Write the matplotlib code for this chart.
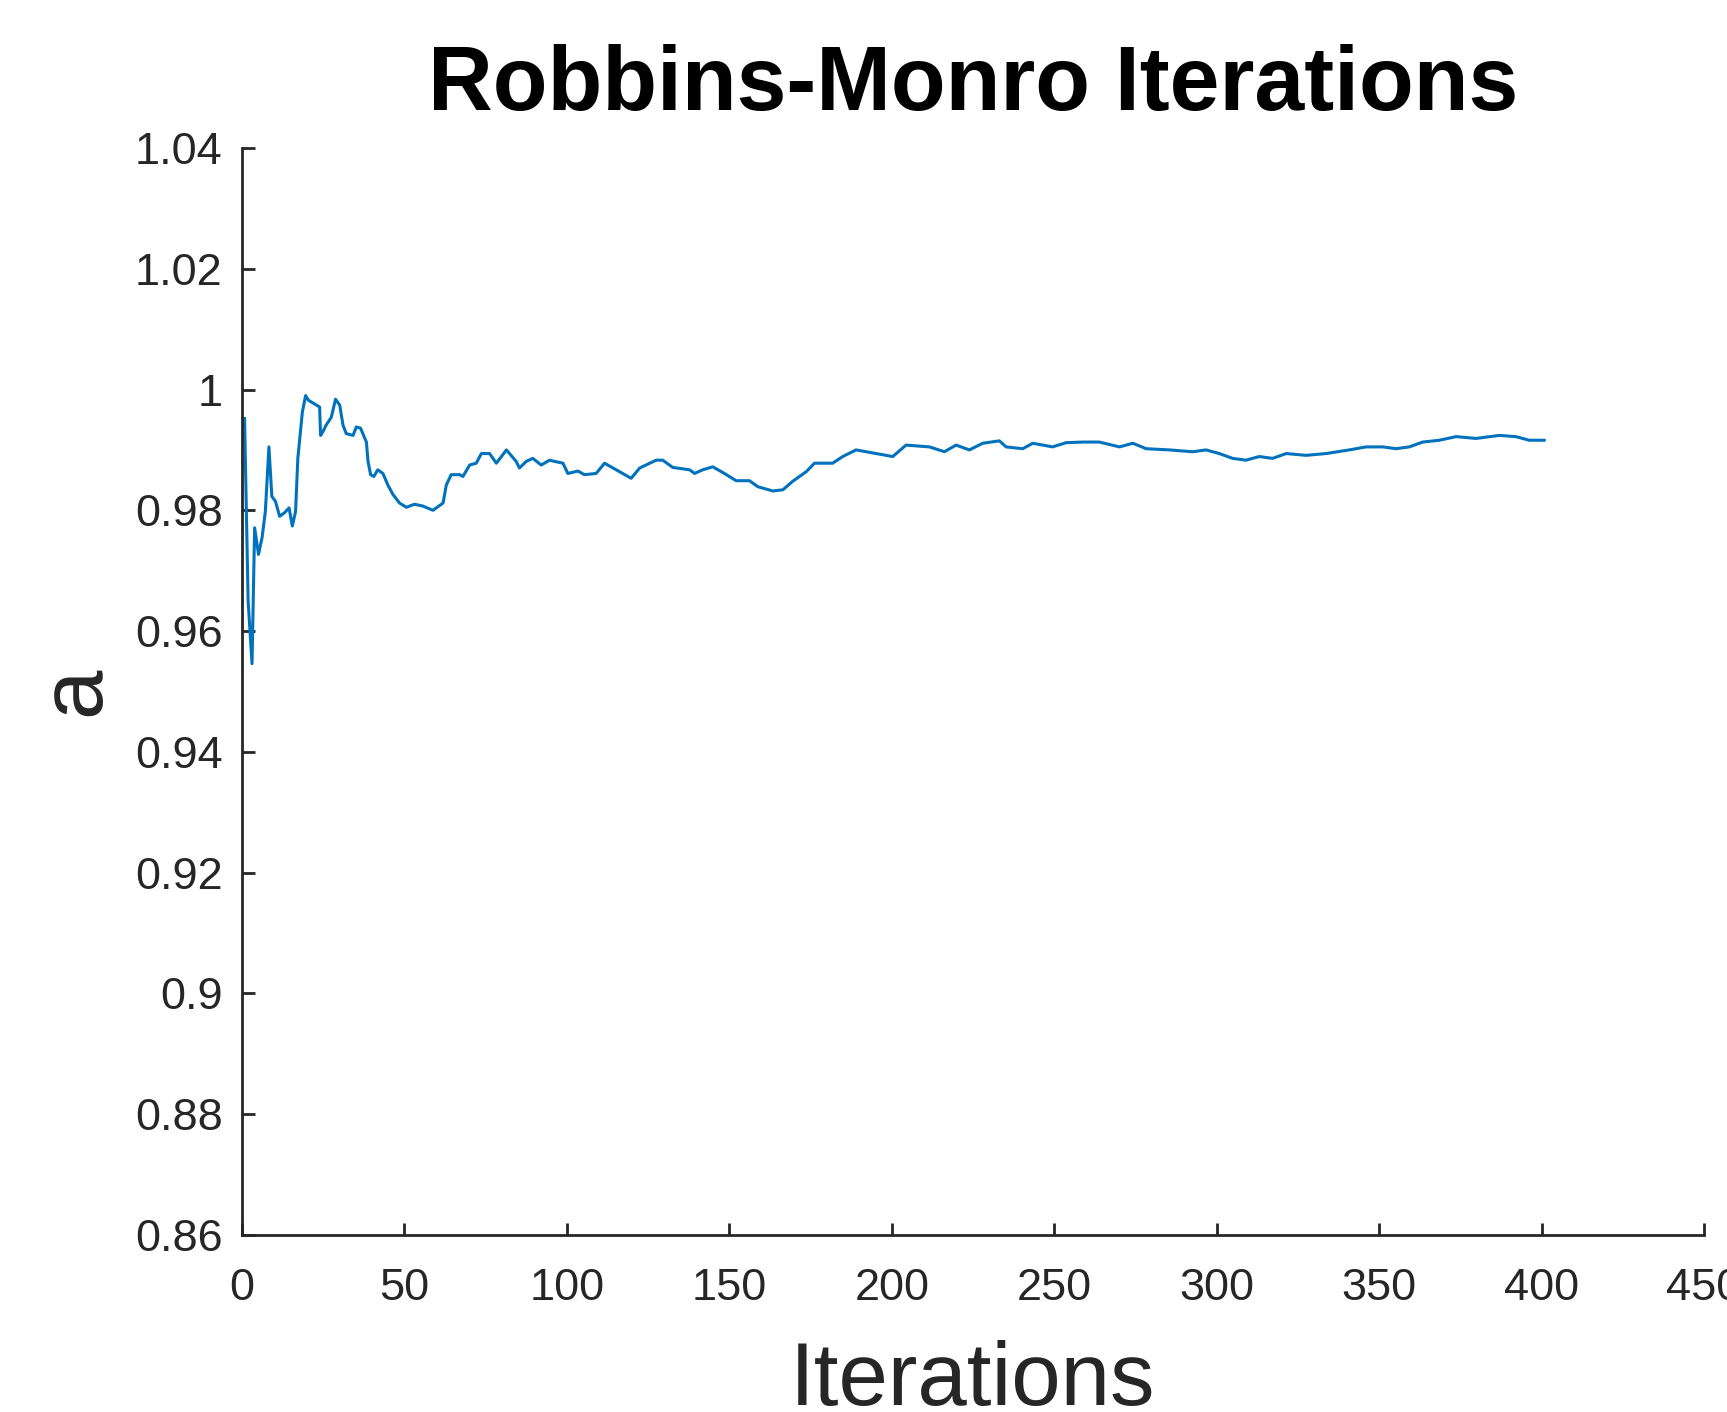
import numpy as np
import matplotlib
matplotlib.use("Agg")
import matplotlib.pyplot as plt

# values
iterations = [0.8, 1.9, 3.1, 3.9, 5.1, 6.2, 7.2, 8.3, 9.2, 10.3, 11.6, 13.1, 14.5, 15.5,
              16.5, 17.2, 18.6, 19.6, 20.5, 22.4, 23.9, 24.2, 24.9, 25.9, 27.5, 28.8,
              30.1, 31.1, 32.1, 34.2, 35.2, 36.5, 38.3, 38.8, 39.6, 40.6, 41.8, 43.4,
              44.9, 46.5, 48.5, 50.6, 53.1, 55.7, 58.8, 61.9, 62.9, 64.4, 67.0, 68.0,
              70.1, 72.1, 73.7, 76.2, 78.3, 81.4, 84.4, 85.4, 87.5, 89.5, 92.1, 94.7,
              96.2, 98.8, 100.3, 103.4, 105.4, 109.0, 111.6, 116.2, 119.8, 122.4,
              127.5, 129.5, 132.6, 137.8, 139.3, 141.8, 144.9, 148.5, 152.1, 156.2,
              158.8, 163.4, 166.5, 169.5, 173.7, 176.2, 181.8, 184.9, 189.0, 195.2,
              200.3, 204.4, 211.6, 216.2, 219.8, 223.9, 228.0, 233.1, 235.2, 240.3,
              243.4, 249.5, 253.7, 258.8, 263.9, 270.1, 274.2, 278.3, 285.4, 292.6,
              296.7, 300.8, 304.9, 309.0, 313.1, 317.2, 321.4, 327.5, 333.7, 340.8,
              346.0, 351.1, 355.2, 359.3, 363.4, 368.5, 373.7, 379.8, 387.0, 392.1,
              396.2, 400.8]
a_values = [0.9952, 0.9650, 0.9546, 0.9771, 0.9727, 0.9755, 0.9798, 0.9905, 0.9823, 0.9815,
            0.9790, 0.9796, 0.9804, 0.9774, 0.9798, 0.9886, 0.9963, 0.9990, 0.9982, 0.9976,
            0.9971, 0.9924, 0.9930, 0.9941, 0.9954, 0.9984, 0.9974, 0.9941, 0.9927, 0.9924,
            0.9938, 0.9936, 0.9913, 0.9881, 0.9859, 0.9856, 0.9867, 0.9861, 0.9842, 0.9826,
            0.9812, 0.9805, 0.9810, 0.9807, 0.9800, 0.9812, 0.9842, 0.9859, 0.9859, 0.9856,
            0.9875, 0.9878, 0.9894, 0.9894, 0.9878, 0.9900, 0.9881, 0.9870, 0.9881, 0.9886,
            0.9875, 0.9883, 0.9881, 0.9878, 0.9861, 0.9865, 0.9859, 0.9861, 0.9878, 0.9864,
            0.9853, 0.9870, 0.9883, 0.9883, 0.9871, 0.9867, 0.9861, 0.9867, 0.9872, 0.9861,
            0.9849, 0.9849, 0.9839, 0.9832, 0.9834, 0.9848, 0.9864, 0.9878, 0.9878, 0.9889,
            0.9900, 0.9894, 0.9889, 0.9908, 0.9905, 0.9897, 0.9908, 0.9900, 0.9911, 0.9915,
            0.9905, 0.9902, 0.9911, 0.9905, 0.9912, 0.9913, 0.9913, 0.9905, 0.9911, 0.9902,
            0.9900, 0.9897, 0.9900, 0.9894, 0.9886, 0.9883, 0.9889, 0.9886, 0.9894, 0.9891,
            0.9894, 0.9900, 0.9905, 0.9905, 0.9902, 0.9905, 0.9913, 0.9916, 0.9922, 0.9919,
            0.9924, 0.9922, 0.9916, 0.9916]

x_ticks = [0, 50, 100, 150, 200, 250, 300, 350, 400, 450]
y_ticks = [0.86, 0.88, 0.9, 0.92, 0.94, 0.96, 0.98, 1.0, 1.02, 1.04]
y_ticklabels = ["0.86", "0.88", "0.9", "0.92", "0.94", "0.96", "0.98", "1", "1.02", "1.04"]

plt.rcParams['font.family'] = ['Liberation Sans', 'DejaVu Sans']
axis_color = '#262626'

fig = plt.figure(figsize=(17.27, 14.12), dpi=100)
ax = fig.add_axes([0.1401, 0.1254, 0.8466, 0.7698])

ax.plot(iterations, a_values, color='#0072BD', linewidth=2.2)

ax.set_xlim(0, 450)
ax.set_ylim(0.86, 1.04)
ax.set_xticks(x_ticks)
ax.set_xticklabels([str(t) for t in x_ticks])
ax.set_yticks(y_ticks)
ax.set_yticklabels(y_ticklabels)

ax.spines['top'].set_visible(False)
ax.spines['right'].set_visible(False)
for s in ['left', 'bottom']:
    ax.spines[s].set_linewidth(2)
    ax.spines[s].set_color(axis_color)

ax.tick_params(axis='both', direction='in', length=9, width=2, colors=axis_color,
               labelsize=32.5, labelcolor=axis_color)
ax.tick_params(axis='x', pad=24)
ax.tick_params(axis='y', pad=14)

ax.set_title('Robbins-Monro Iterations', fontsize=64.5, fontweight='bold', pad=27)
ax.set_xlabel('Iterations', fontsize=64, color=axis_color, labelpad=22)
ax.set_ylabel('a', fontsize=64, color=axis_color, labelpad=12)

fig.savefig('out.png', dpi=100)
